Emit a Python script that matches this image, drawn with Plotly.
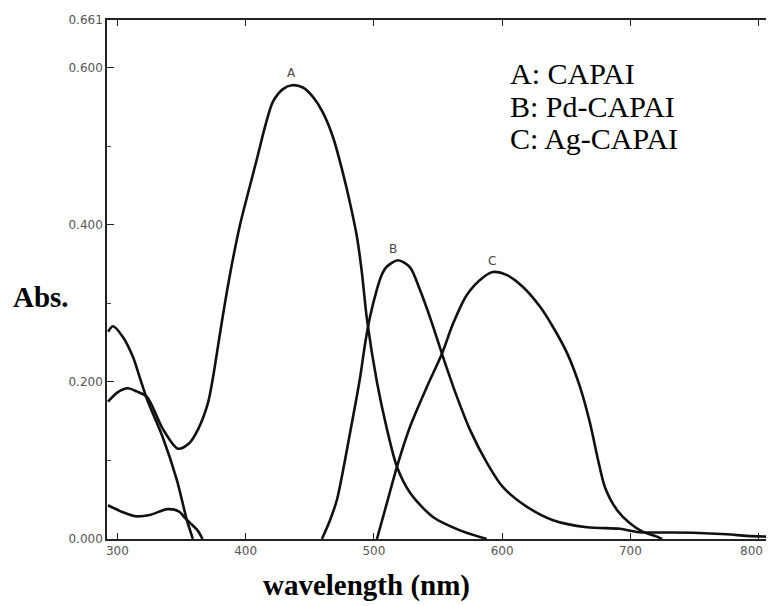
import plotly.graph_objects as go

# ---- data ----
wl_A = [292.7, 300.4, 308.2, 315.0, 323.1, 335.5, 347.2, 356.0, 363.0, 370.6, 374.5, 378.4,
        382.3, 387.8, 395.6, 401.8, 408.8, 415.1, 421.3, 429.1, 436.1, 444.7, 452.5, 460.3,
        468.1, 475.9, 481.4, 486.8, 490.7, 494.6, 502.4, 510.2, 518.0, 528.2, 546.1, 567.2, 588.0]
abs_A = [0.175, 0.187, 0.192, 0.188, 0.181, 0.140, 0.115, 0.122, 0.140, 0.173, 0.205, 0.245,
         0.285, 0.337, 0.400, 0.440, 0.484, 0.525, 0.557, 0.573, 0.578, 0.575, 0.563, 0.543,
         0.512, 0.466, 0.428, 0.385, 0.339, 0.280, 0.200, 0.140, 0.092, 0.059, 0.028, 0.011, 0.0]

wl_B = [292.7, 296.6, 304.4, 312.1, 317.6, 323.1, 335.5, 346.4, 354.2, 358.9, None,
        459.5, 465.8, 471.2, 481.4, 489.2, 493.1, 497.0, 502.4, 506.0, 510.2, 518.8, 528.2,
        536.0, 545.3, 553.9, 564.8, 575.0, 588.2, 600.7, 619.4, 639.7, 666.2, 691.9, 705.2,
        748.9, 775.4, 791.0, 805.8]
abs_B = [0.264, 0.271, 0.257, 0.232, 0.205, 0.178, 0.129, 0.075, 0.024, 0.0, None,
         0.0, 0.024, 0.050, 0.135, 0.205, 0.248, 0.283, 0.318, 0.336, 0.347, 0.355, 0.346,
         0.317, 0.275, 0.232, 0.181, 0.139, 0.097, 0.066, 0.041, 0.024, 0.015, 0.013, 0.009,
         0.008, 0.006, 0.004, 0.003]

wl_C = [292.7, 304.4, 314.2, 325.9, 339.1, 348.2, 352.1, 357.0, 362.5, 366.4, None,
        502.4, 510.2, 518.0, 528.2, 541.4, 553.1, 561.7, 572.6, 585.1, 592.9, 603.8, 616.3,
        629.5, 639.7, 650.6, 660.7, 668.5, 674.8, 680.2, 689.6, 699.7, 709.9, 720.8, 724.7]
abs_C = [0.043, 0.034, 0.029, 0.031, 0.038, 0.035, 0.028, 0.020, 0.011, 0.0, None,
         0.0, 0.046, 0.092, 0.143, 0.194, 0.236, 0.274, 0.311, 0.333, 0.340, 0.336, 0.321,
         0.296, 0.270, 0.237, 0.194, 0.148, 0.101, 0.066, 0.037, 0.020, 0.009, 0.003, 0.0]

x_ticks = [300, 400, 500, 600, 700, 800]
x_ticktext = ["300", "400", "500", "600", "700", "800"]
y_ticks = [0.0, 0.2, 0.4, 0.6, 0.661]
y_ticktext = ["0.000", "0.200", "0.400", "0.600", "0.661"]
legend_lines = ["A: CAPAI", "B: Pd-CAPAI", "C: Ag-CAPAI"]
curve_labels = ["A", "B", "C"]
label_x = [436.1, 514.9, 592.1]
label_y = [0.594, 0.369, 0.354]

fig = go.Figure()
for wl, ab, name in [(wl_A, abs_A, "A"), (wl_B, abs_B, "B"), (wl_C, abs_C, "C")]:
    fig.add_trace(go.Scatter(x=wl, y=ab, mode="lines", name=name, connectgaps=False,
                             hoverinfo="skip",
                             line=dict(color="#111111", width=2.6, shape="spline", smoothing=0.8)))

tickfont = dict(family="DejaVu Sans", size=12, color="#555555")
# last x label is drawn separately (right-aligned) so it stays inside the page
shown_xtext = x_ticktext[:-1] + [""]
fig.update_layout(
    width=768, height=606,
    margin=dict(l=107, r=2, t=20, b=67),
    paper_bgcolor="white", plot_bgcolor="white",
    showlegend=False,
    xaxis=dict(range=[291.9, 805.8], tickvals=x_ticks, ticktext=shown_xtext, ticks="inside",
               ticklen=6, tickcolor="#222222", showline=True, linecolor="#222222",
               linewidth=1.5, mirror="ticks", showgrid=False, zeroline=False,
               tickfont=tickfont, automargin=False, ticklabeloverflow="allow"),
    yaxis=dict(range=[0, 0.661], tickvals=y_ticks, ticktext=y_ticktext, ticks="inside",
               ticklen=7, tickcolor="#222222", showline=True, linecolor="#222222",
               linewidth=1.5, showgrid=False, zeroline=False, tickfont=tickfont,
               automargin=False, ticklabeloverflow="allow",
               minor=dict(tickvals=[0.1, 0.3, 0.5], ticks="inside", ticklen=4,
                          tickcolor="#444444")),
)
fig.add_annotation(xref="paper", yref="paper", x=0.999, y=-0.024, xanchor="right",
                   yanchor="middle", text=x_ticktext[-1], showarrow=False, font=tickfont)

for t, xv, yv in zip(curve_labels, label_x, label_y):
    fig.add_annotation(x=xv, y=yv, text=t, showarrow=False,
                       font=dict(family="DejaVu Sans", size=12, color="#444444"))

for i, line in enumerate(legend_lines):
    fig.add_annotation(xref="paper", yref="paper", x=0.6085, y=[0.896, 0.834, 0.772][i],
                       xanchor="left", yanchor="middle", text=line, showarrow=False,
                       font=dict(family="Liberation Serif", size=30, color="black"))

fig.add_annotation(xref="paper", yref="paper", x=-0.1, y=0.466, text="<b>Abs.</b>",
                   showarrow=False, xanchor="center", yanchor="middle",
                   font=dict(family="Liberation Serif", size=29, color="black"))
fig.add_annotation(xref="paper", yref="paper", x=0.3945, y=-0.126,
                   text="<b>wavelength (nm)</b>", showarrow=False,
                   xanchor="center", yanchor="bottom",
                   font=dict(family="Liberation Serif", size=29, color="black"))

fig.write_html("out.html", config={"displayModeBar": False},
               post_script="document.body.style.margin='0';document.body.style.overflow='hidden';")
